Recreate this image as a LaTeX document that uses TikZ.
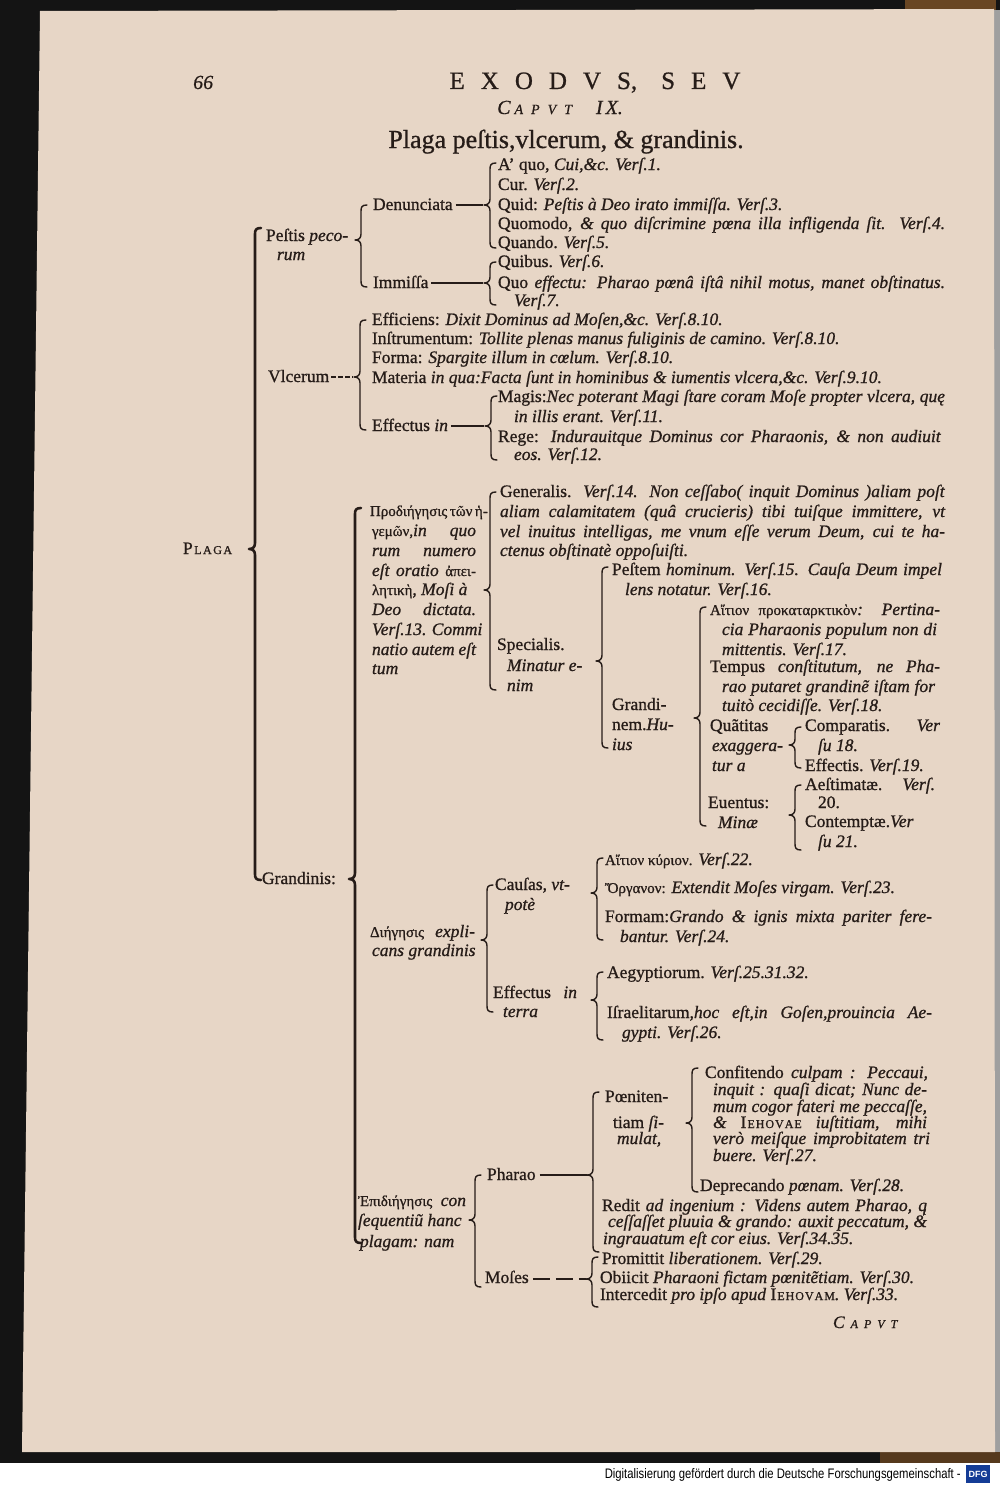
\documentclass[tikz,border=0pt]{standalone}
\usepackage{fontspec}
\setmainfont{Liberation Serif}
\newfontfamily\sansf{Liberation Sans}
\usetikzlibrary{calc}
\definecolor{paper}{RGB}{231,214,198}
\definecolor{ink}{RGB}{38,28,24}
\definecolor{dfgblue}{RGB}{20,60,150}
\newcommand\tfont{\fontsize{17.5}{20}\selectfont\addfontfeature{FakeBold=0.9}}
\newcommand\gfont{\fontsize{15}{20}\selectfont}
\newcommand\smc[1]{{\fontsize{12}{12}\selectfont #1}}
\newcommand\jl[2]{\makebox[#1pt][s]{#2}}
\newcommand\qdd{\textit{q}\llap{\raisebox{-4.5pt}{\fontsize{10}{10}\selectfont /}\kern1pt}}
\newcommand\brc[5][]{%
 \draw[bra,#1] (#2+6,#3) .. controls (#2+1,#3) and (#2,#3+2) .. (#2,#3+6) -- (#2,#4-6)
   .. controls (#2,#4-2) and (#2-2,#4) .. (#2-6,#4)
   .. controls (#2-2,#4) and (#2,#4+2) .. (#2,#4+6) -- (#2,#5-6)
   .. controls (#2,#5-2) and (#2+1,#5) .. (#2+6,#5);}
\tikzset{
 tx/.style={anchor=base west, inner sep=0pt, outer sep=0pt, font=\tfont, text=ink},
 txi/.style={tx, font=\tfont\itshape},
 hd/.style={anchor=base west, inner sep=0pt, text=ink},
 bra/.style={draw=ink, line width=1.4pt, line cap=round, line join=round},
 big/.style={line width=2.6pt},
 cn/.style={draw=ink, line width=1.2pt},
}
\begin{document}
\begin{tikzpicture}[x=1pt,y=-1pt]
\useasboundingbox (0,0) rectangle (1000,1485);
% scan background
\fill[white] (0,0) rectangle (1000,1485);
\fill[black!92] (0,0) rectangle (1000,1463);
\fill[black!45!brown] (905,0) rectangle (996,10);
\fill[black!55!brown] (880,1452) rectangle (1000,1463);
\fill[gray!75] (994,10) rectangle (1000,1452);
\fill[paper] (40,11) -- (994,9) -- (995,1452) -- (22,1452) -- cycle;
% footer
\node[anchor=base east, inner sep=0pt, font=\sansf\fontsize{11}{11}\selectfont] (foot) at (961,1478)
  {\resizebox{356pt}{10pt}{Digitalisierung gefördert durch die Deutsche Forschungsgemeinschaft -}};
\node[fill=dfgblue, text=white, font=\sansf\bfseries\fontsize{9}{9}\selectfont, minimum width=24pt, minimum height=18pt, inner sep=0pt] (dfg) at (978,1474) {DFG};
% header
\node[hd, font=\fontsize{20}{20}\selectfont\addfontfeature{FakeBold=0.6}\itshape] (pg) at (193,89) {66};
\node[hd, anchor=base, font=\fontsize{25}{25}\selectfont\addfontfeature{FakeBold=0.8}] (ttl) at (595,89)
  {E\hspace{16pt}X\hspace{16pt}O\hspace{16pt}D\hspace{16pt}V\hspace{16pt}S,\hspace{24pt}S\hspace{16pt}E\hspace{16pt}V};
\node[hd, font=\fontsize{20}{20}\selectfont\addfontfeature{FakeBold=0.6}\itshape] (cap) at (497,114)
  {C\hspace{4pt}{\fontsize{14}{14}\selectfont A\hspace{8pt}P\hspace{8pt}V\hspace{8pt}T}\hspace{24pt}I\hspace{3pt}X.};
\node[hd, anchor=base, font=\fontsize{26}{26}\selectfont\addfontfeature{FakeBold=0.8}] (sub) at (566,148) {Plaga peſtis,vlcerum, \& grandinis.};
% PLAGA
\node[tx] (plaga) at (183,554) {P\smc{\hspace{1.5pt}L\hspace{1.5pt}A\hspace{1.5pt}G\hspace{1.5pt}A}};
\brc[big]{255}{228}{549}{880}
% Pestis pecorum
\node[tx] (pest) at (266,241) {Peſtis \textit{peco-}};
\node[txi] (pest2) at (277,260) {rum};
\brc{361}{205}{240}{287}
\node[tx] (denu) at (373,210) {Denunciata};
\coordinate (tDen) at (483,205);
\draw[cn] (denu.base east) ++(3,-5) -- (tDen);
\brc{490}{163}{205}{248}
\node[tx] (d1) at (498,170) {A’ quo, \textit{Cui,\&c. Verſ.1.}};
\node[tx] (d2) at (498,190) {Cur. \textit{Verſ.2.}};
\node[tx] (d3) at (498,210) {Quid: \textit{Peſtis à Deo irato immiſſa. Verſ.3.}};
\node[tx] (d4) at (498,229) {\jl{447}{Quomodo, \textit{\& quo diſcrimine pœna illa infligenda ſit. Verſ.4.}}};
\node[tx] (d5) at (498,248) {Quando. \textit{Verſ.5.}};
\node[tx] (immi) at (373,288) {Immiſſa};
\coordinate (tImm) at (483,283);
\draw[cn] (immi.base east) ++(3,-5) -- (tImm);
\brc{490}{262}{283}{305}
\node[tx] (i1) at (498,267) {Quibus. \textit{Verſ.6.}};
\node[tx] (i2) at (498,288) {\jl{447}{Quo \textit{effectu: Pharao pœnâ iſtâ nihil motus, manet obſtinatus.}}};
\node[txi] (i3) at (514,306) {Verſ.7.};
% Vlcerum
\node[tx] (vlc) at (268,382) {Vlcerum};
\coordinate (tVlc) at (353,377);
\draw[cn, dash pattern=on 5pt off 2pt] (vlc.base east) ++(2,-5) -- (tVlc);
\brc{360}{320}{377}{430}
\node[tx] (v1) at (372,325) {Efficiens: \textit{Dixit Dominus ad Moſen,\&c. Verſ.8.10.}};
\node[tx] (v2) at (372,344) {Inſtrumentum: \textit{Tollite plenas manus fuliginis de camino. Verſ.8.10.}};
\node[tx] (v3) at (372,363) {Forma: \textit{Spargite illum in cœlum. Verſ.8.10.}};
\node[tx] (v4) at (372,383) {Materia \textit{in qua:Facta ſunt in hominibus \& iumentis vlcera,\&c. Verſ.9.10.}};
\node[tx] (v5) at (372,431) {Effectus \textit{in}};
\coordinate (tEff) at (484,426);
\draw[cn] (v5.base east) ++(3,-5) -- (tEff);
\brc{491}{396}{426}{460}
\node[tx] (m1) at (498,402) {\jl{447}{Magis:\textit{Nec poterant Magi ſtare coram Moſe propter vlcera, quę}}};
\node[txi] (m2) at (514,422) {in illis erant. Verſ.11.};
\node[tx] (m3) at (498,442) {\jl{443}{Rege: \textit{Indurauitque Dominus cor Pharaonis, \& non audiuit}}};
\node[txi] (m4) at (514,460) {eos. Verſ.12.};
% Grandinis
\node[tx] (gran) at (262,884) {Grandinis:};
\brc[big]{355}{508}{879}{1243}
% Prodiegesis
\node[tx] (pr1) at (370,516) {\jl{108}{\gfont Προδιήγησις τῶν ἡ-}};
\node[tx] (pr2) at (372,536) {\jl{104}{{\gfont γεμῶν,}\textit{in quo}}};
\node[txi] (pr3) at (372,556) {\jl{104}{rum numero}};
\node[txi] (pr4) at (372,576) {\jl{104}{eſt oratio {\upshape\gfont ἀπει-}}};
\node[tx] (pr5) at (372,595) {{\gfont λητικὴ}, \textit{Moſi à}};
\node[txi] (pr6) at (372,615) {\jl{104}{Deo dictata.}};
\node[txi] (pr7) at (372,635) {\jl{104}{Verſ.13. Commi}};
\node[txi] (pr8) at (372,655) {\jl{104}{natio autem eſt}};
\node[txi] (pr9) at (372,674) {tum};
\brc{490}{492}{590}{690}
\node[tx] (g1) at (500,497) {\jl{445}{Generalis. \textit{Verſ.14. Non ceſſabo( inquit Dominus )aliam poſt}}};
\node[txi] (g2) at (500,517) {\jl{445}{aliam calamitatem (quâ crucieris) tibi tuiſque immittere, vt}};
\node[txi] (g3) at (500,537) {\jl{445}{vel inuitus intelligas, me vnum eſſe verum Deum, cui te ha-}};
\node[txi] (g4) at (500,556) {ctenus obſtinatè oppoſuiſti.};
\node[tx] (s1) at (497,650) {Specialis.};
\node[txi] (s2) at (507,671) {Minatur e-};
\node[txi] (s3) at (507,691) {nim};
\brc{602}{567}{661}{748}
\node[tx] (p1) at (612,575) {\jl{330}{Peſtem \textit{hominum. Verſ.15. Cauſa Deum impel}}};
\node[txi] (p2) at (625,595) {lens notatur. Verſ.16.};
\node[tx] (gr1) at (612,710) {Grandi-};
\node[tx] (gr2) at (612,730) {nem.\textit{Hu-}};
\node[txi] (gr3) at (612,750) {ius};
\brc{700}{607}{718}{826}
\node[tx] (a1) at (710,615) {\jl{230}{{\gfont Αἴτιον προκαταρκτικὸν}\textit{: Pertina-}}};
\node[txi] (a2) at (722,635) {\jl{215}{cia Pharaonis populum non di}};
\node[txi] (a3) at (722,655) {mittentis. Verſ.17.};
\node[tx] (t1) at (710,672) {\jl{230}{Tempus \textit{conſtitutum, ne Pha-}}};
\node[txi] (t2) at (722,692) {\jl{213}{rao putaret grandinẽ iſtam for}};
\node[txi] (t3) at (722,711) {tuitò cecidiſſe. Verſ.18.};
\node[tx] (q1) at (710,731) {Quãtitas};
\node[txi] (q2) at (712,751) {exaggera-};
\node[txi] (q3) at (712,771) {tur a};
\brc{795}{727}{745}{768}
\node[tx] (c1) at (805,731) {\jl{135}{Comparatis. \textit{Ver}}};
\node[txi] (c2) at (818,751) {ſu 18.};
\node[tx] (c3) at (805,771) {Effectis. \textit{Verſ.19.}};
\node[tx] (e1) at (708,808) {Euentus:};
\node[txi] (e2) at (718,828) {Minæ};
\brc{795}{785}{815}{850}
\node[tx] (f1) at (805,790) {\jl{130}{Aeſtimatæ. \textit{Verſ.}}};
\node[tx] (f2) at (818,808) {20.};
\node[tx] (f3) at (805,827) {\jl{130}{Contemptæ.\textit{Ver}}};
\node[txi] (f4) at (818,847) {ſu 21.};
% Diegesis
\node[tx] (dg1) at (370,937) {\jl{105}{{\gfont Διήγησις} \textit{expli-}}};
\node[txi] (dg2) at (372,956) {cans grandinis};
\brc{487}{885}{940}{1012}
\node[tx] (ca1) at (495,890) {Cauſas, \textit{vt-}};
\node[txi] (ca2) at (505,910) {potè};
\brc{597}{858}{893}{940}
\node[tx] (k1) at (605,865) {{\gfont Αἴτιον κύριον.} \textit{Verſ.22.}};
\node[tx] (k2) at (605,893) {{\gfont Ὄργανον:} \textit{Extendit Moſes virgam. Verſ.23.}};
\node[tx] (k3) at (605,922) {\jl{327}{Formam:\textit{Grando \& ignis mixta pariter fere-}}};
\node[txi] (k4) at (620,942) {bantur. Verſ.24.};
\node[tx] (ef1) at (493,998) {Effectus\hspace{8pt} \textit{in}};
\node[txi] (ef2) at (503,1017) {terra};
\brc{597}{972}{1000}{1040}
\node[tx] (ae1) at (607,978) {Aegyptiorum. \textit{Verſ.25.31.32.}};
\node[tx] (ae2) at (607,1018) {\jl{325}{Iſraelitarum,\textit{hoc eſt,in Goſen,prouincia Ae-}}};
\node[txi] (ae3) at (622,1038) {gypti. Verſ.26.};
% Epidiegesis
\node[tx] (ep1) at (358,1206) {\jl{108}{{\gfont Ἐπιδιήγησις} \textit{con}}};
\node[txi] (ep2) at (358,1226) {ſequentiũ hanc};
\node[txi] (ep3) at (360,1247) {plagam: nam};
\brc{475}{1175}{1220}{1287}
\node[tx] (ph) at (487,1180) {Pharao};
\coordinate (tPh) at (587,1175);
\draw[cn] (ph.base east) ++(4,-5) -- (tPh);
\brc{593}{1092}{1175}{1252}
\node[tx] (pn1) at (605,1102) {Pœniten-};
\node[tx] (pn2) at (613,1128) {tiam \textit{ſi-}};
\node[txi] (pn3) at (617,1144) {mulat,};
\brc{692}{1068}{1123}{1192}
\node[tx] (cf1) at (705,1078) {\jl{223}{Confitendo \textit{culpam : Peccaui,}}};
\node[txi] (cf2) at (713,1095) {\jl{214}{inquit : quaſi dicat; Nunc de-}};
\node[txi] (cf3) at (713,1112) {\jl{214}{mum cogor fateri me peccaſſe,}};
\node[tx] (cf4) at (713,1128) {\jl{214}{\textit{\&} I\smc{\hspace{1pt}E\hspace{1pt}H\hspace{1pt}O\hspace{1pt}V\hspace{1pt}A\hspace{1pt}E} \textit{iuſtitiam, mihi}}};
\node[txi] (cf5) at (713,1144) {\jl{217}{verò meiſque improbitatem tri}};
\node[txi] (cf6) at (713,1161) {buere. Verſ.27.};
\node[tx] (cf7) at (700,1191) {Deprecando \textit{pœnam. Verſ.28.}};
\node[tx] (rd1) at (602,1211) {\jl{325}{Redit \textit{ad ingenium : Videns autem Pharao,} \qdd}};
\node[txi] (rd2) at (608,1227) {\jl{319}{ceſſaſſet pluuia \& grando: auxit peccatum, \&}};
\node[txi] (rd3) at (603,1244) {ingrauatum eſt cor eius. Verſ.34.35.};
\node[tx] (mo) at (485,1283) {Moſes};
\coordinate (tMo) at (586,1279);
\draw[cn, dash pattern=on 17pt off 6pt] (mo.base east) ++(4,-4) -- (tMo);
\brc{592}{1257}{1279}{1307}
\node[tx] (pm1) at (602,1264) {Promittit \textit{liberationem. Verſ.29.}};
\node[tx] (pm2) at (600,1283) {Obiicit \textit{Pharaoni fictam pœnitẽtiam. Verſ.30.}};
\node[tx] (pm3) at (600,1300) {Intercedit \textit{pro ipſo apud} I\smc{\hspace{1pt}E\hspace{1pt}H\hspace{1pt}O\hspace{1pt}V\hspace{1pt}A\hspace{1pt}M}\textit{. Verſ.33.}};
% catchword
\node[txi] (cw) at (833,1328) {C\smc{\hspace{6pt}A\hspace{6pt}P\hspace{6pt}V\hspace{6pt}T}};
\end{tikzpicture}
\end{document}
